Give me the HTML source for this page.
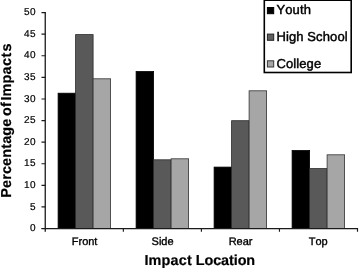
<!DOCTYPE html>
<html><head><meta charset="utf-8">
<style>
html,body{margin:0;padding:0;background:#fff;}
body{width:359px;height:269px;overflow:hidden;position:relative;font-family:"Liberation Sans",sans-serif;}
svg{position:absolute;left:0;top:0;will-change:transform;opacity:0.999;}
text{font-family:"Liberation Sans",sans-serif;fill:#000;stroke:#000;stroke-width:0.2px;text-rendering:geometricPrecision;font-kerning:none;}
.lg text{stroke-width:0.45px;}
.xl text{stroke-width:0.35px;}
</style></head><body>
<svg width="359" height="269" viewBox="0 0 359 269">
<rect width="359" height="269" fill="#fff"/>
<!-- bars -->
<g>
<rect x="58.10" y="93.20" width="17.5" height="135.20" fill="#000" stroke="#000" stroke-width="0.8"/>
<rect x="75.60" y="34.60" width="17.5" height="193.80" fill="#595959" stroke="#2b2b2b" stroke-width="0.8"/>
<rect x="93.10" y="78.80" width="17.5" height="149.60" fill="#a6a6a6" stroke="#333" stroke-width="0.8"/>
<rect x="136.10" y="71.50" width="17.5" height="156.90" fill="#000" stroke="#000" stroke-width="0.8"/>
<rect x="153.60" y="159.80" width="17.5" height="68.60" fill="#595959" stroke="#2b2b2b" stroke-width="0.8"/>
<rect x="171.10" y="158.80" width="17.5" height="69.60" fill="#a6a6a6" stroke="#333" stroke-width="0.8"/>
<rect x="214.10" y="167.10" width="17.5" height="61.30" fill="#000" stroke="#000" stroke-width="0.8"/>
<rect x="231.60" y="120.70" width="17.5" height="107.70" fill="#595959" stroke="#2b2b2b" stroke-width="0.8"/>
<rect x="249.10" y="90.80" width="17.5" height="137.60" fill="#a6a6a6" stroke="#333" stroke-width="0.8"/>
<rect x="292.10" y="150.50" width="17.5" height="77.90" fill="#000" stroke="#000" stroke-width="0.8"/>
<rect x="309.60" y="168.60" width="17.5" height="59.80" fill="#595959" stroke="#2b2b2b" stroke-width="0.8"/>
<rect x="327.10" y="154.80" width="17.5" height="73.60" fill="#a6a6a6" stroke="#333" stroke-width="0.8"/>
</g>
<!-- axes -->
<g stroke="#1a1a1a" fill="none">
<path d="M45.25 11.9 V231.8" stroke-width="1.3"/>
<path d="M41.5 228.55 H358.05" stroke-width="1.2"/>
<path d="M123.35 228.5 V231.8 M201.4 228.5 V231.8 M279.45 228.5 V231.8 M357.5 228.5 V231.8" stroke-width="1.15"/>
<path d="M41.5 228.50 H45.2 M41.5 206.91 H45.2 M41.5 185.32 H45.2 M41.5 163.73 H45.2 M41.5 142.14 H45.2 M41.5 120.55 H45.2 M41.5 98.96 H45.2 M41.5 77.37 H45.2 M41.5 55.78 H45.2 M41.5 34.19 H45.2 M41.5 12.60 H45.2" stroke-width="1.15"/>
</g>
<!-- y tick labels -->
<g font-size="10" text-anchor="end" letter-spacing="0.4">
<text x="35.9" y="15.30">50</text>
<text x="35.9" y="36.89">45</text>
<text x="35.9" y="58.48">40</text>
<text x="35.9" y="80.07">35</text>
<text x="35.9" y="101.66">30</text>
<text x="35.9" y="123.25">25</text>
<text x="35.9" y="144.84">20</text>
<text x="35.9" y="166.43">15</text>
<text x="35.9" y="188.02">10</text>
<text x="35.9" y="209.61">5</text>
<text x="35.9" y="231.20">0</text>
</g>
<!-- x labels -->
<g font-size="11" text-anchor="middle" class="xl">
<text x="84.6" y="245">Front</text>
<text x="162.6" y="245">Side</text>
<text x="240.6" y="245">Rear</text>
<text x="318.2" y="245">Top</text>
</g>
<g font-size="14.4" font-weight="bold" letter-spacing="0.2">
<text x="144.4" y="265">Impact</text>
<text x="195.7" y="265" letter-spacing="-0.07">Location</text>
</g>
<g font-size="14.4" font-weight="bold" letter-spacing="0.17">
<text transform="translate(11.4,197.8) rotate(-90)">Percentage</text>
<text transform="translate(11.4,115.9) rotate(-90)">of</text>
<text transform="translate(11.4,100.6) rotate(-90)">Impa<tspan dx="0.4">c</tspan><tspan dx="0.3">t</tspan><tspan dx="1.0">s</tspan></text>
</g>
<!-- legend -->
<rect x="264.3" y="0.2" width="86.9" height="72.3" fill="#fff" stroke="#000" stroke-width="1.6"/>
<g stroke-width="1">
<rect x="267.4" y="7.5" width="6.3" height="6.2" fill="#000" stroke="#000"/>
<rect x="267.4" y="34.1" width="6.3" height="6.2" fill="#606060" stroke="#222"/>
<rect x="267.4" y="60.8" width="6.3" height="6.2" fill="#a6a6a6" stroke="#3a3a3a"/>
</g>
<g font-size="13" class="lg" letter-spacing="0.1">
<text x="276.5" y="14.4">Youth</text>
<text x="276.5" y="41.2">High School</text>
<text x="276.5" y="67.8">College</text>
</g>
</svg>
</body></html>
